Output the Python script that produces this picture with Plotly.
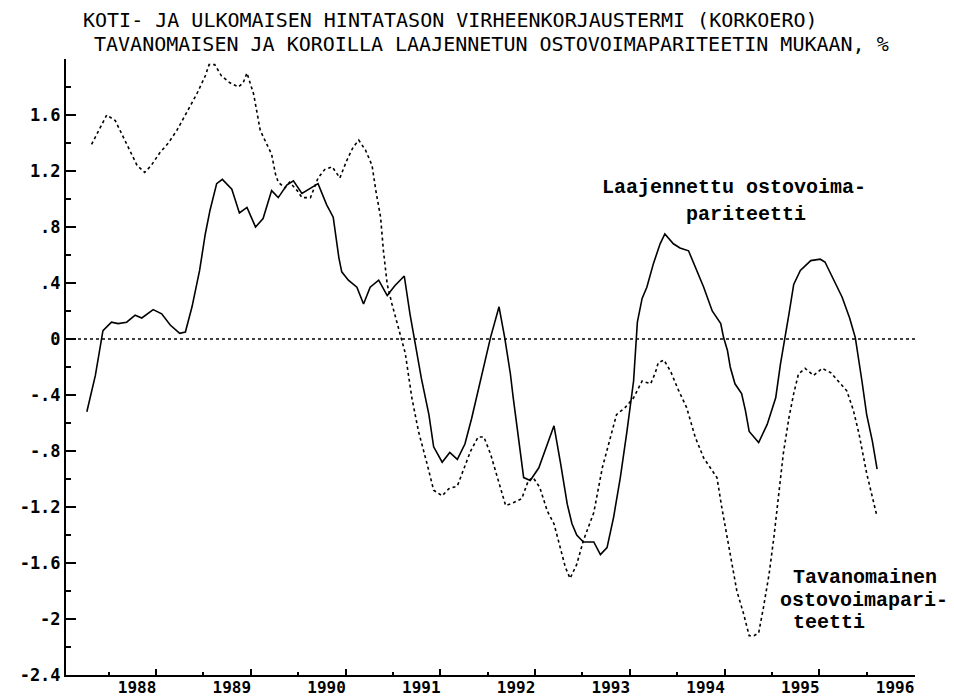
import plotly.graph_objects as go

# Laajennettu ostovoimapariteetti (solid)
laaj_x = [1987.27, 1987.36, 1987.44, 1987.53, 1987.60, 1987.69, 1987.78, 1987.85, 1987.97, 1988.06,
          1988.15, 1988.25, 1988.31, 1988.38, 1988.46, 1988.52, 1988.57, 1988.64, 1988.70, 1988.80,
          1988.88, 1988.96, 1989.05, 1989.13, 1989.22, 1989.29, 1989.38, 1989.45, 1989.54, 1989.63,
          1989.71, 1989.80, 1989.87, 1989.93, 1989.96, 1990.03, 1990.12, 1990.19, 1990.26, 1990.35,
          1990.44, 1990.52, 1990.62, 1990.68, 1990.73, 1990.80, 1990.88, 1990.93, 1991.02, 1991.10,
          1991.18, 1991.26, 1991.33, 1991.40, 1991.47, 1991.53, 1991.62, 1991.68, 1991.74, 1991.77,
          1991.88, 1991.95, 1992.04, 1992.13, 1992.20, 1992.27, 1992.34, 1992.39, 1992.44, 1992.51,
          1992.62, 1992.69, 1992.76, 1992.83, 1992.90, 1992.97, 1993.04, 1993.08, 1993.13, 1993.18,
          1993.25, 1993.32, 1993.37, 1993.46, 1993.53, 1993.62, 1993.69, 1993.78, 1993.87, 1993.96,
          1993.99, 1994.03, 1994.06, 1994.11, 1994.18, 1994.22, 1994.26, 1994.36, 1994.45, 1994.54,
          1994.59, 1994.64, 1994.68, 1994.73, 1994.80, 1994.91, 1995.01, 1995.06, 1995.15, 1995.24,
          1995.32, 1995.38, 1995.45, 1995.50, 1995.56, 1995.61]
laaj_y = [-0.52, -0.26, 0.06, 0.12, 0.11, 0.12, 0.17, 0.15, 0.21, 0.18,
          0.10, 0.04, 0.05, 0.23, 0.49, 0.75, 0.92, 1.11, 1.14, 1.07,
          0.90, 0.94, 0.80, 0.86, 1.06, 1.01, 1.10, 1.13, 1.04, 1.08,
          1.11, 0.96, 0.87, 0.58, 0.48, 0.42, 0.37, 0.25, 0.37, 0.42,
          0.31, 0.38, 0.45, 0.18, -0.01, -0.28, -0.54, -0.77, -0.88, -0.81,
          -0.86, -0.75, -0.57, -0.37, -0.18, 0.01, 0.23, 0.01, -0.25, -0.42,
          -0.99, -1.01, -0.92, -0.75, -0.62, -0.89, -1.18, -1.32, -1.40, -1.45,
          -1.45, -1.54, -1.49, -1.27, -0.99, -0.66, -0.30, 0.12, 0.29, 0.37,
          0.54, 0.68, 0.75, 0.68, 0.65, 0.63, 0.51, 0.37, 0.20, 0.11,
          0.01, -0.08, -0.20, -0.32, -0.39, -0.51, -0.66, -0.74, -0.61, -0.42,
          -0.18, 0.01, 0.18, 0.39, 0.49, 0.56, 0.57, 0.55, 0.42, 0.30,
          0.15, 0.01, -0.30, -0.54, -0.73, -0.93]

# Tavanomainen ostovoimapariteetti (dotted)
tav_x = [1987.32, 1987.48, 1987.57, 1987.67, 1987.80, 1987.88, 1987.95, 1988.04, 1988.13, 1988.22,
         1988.32, 1988.43, 1988.52, 1988.56, 1988.62, 1988.69, 1988.78, 1988.87, 1988.92, 1988.96,
         1989.03, 1989.10, 1989.17, 1989.22, 1989.26, 1989.29, 1989.36, 1989.41, 1989.49, 1989.54,
         1989.63, 1989.71, 1989.78, 1989.86, 1989.94, 1990.01, 1990.08, 1990.14, 1990.21, 1990.28,
         1990.32, 1990.37, 1990.40, 1990.44, 1990.49, 1990.54, 1990.59, 1990.63, 1990.70, 1990.77,
         1990.86, 1990.93, 1991.02, 1991.09, 1991.18, 1991.25, 1991.32, 1991.40, 1991.46, 1991.53,
         1991.60, 1991.69, 1991.77, 1991.86, 1991.93, 1991.98, 1992.05, 1992.13, 1992.20, 1992.27,
         1992.32, 1992.37, 1992.44, 1992.51, 1992.62, 1992.71, 1992.78, 1992.86, 1992.95, 1993.04,
         1993.13, 1993.22, 1993.27, 1993.30, 1993.36, 1993.43, 1993.51, 1993.60, 1993.69, 1993.78,
         1993.87, 1993.92, 1993.97, 1994.03, 1994.08, 1994.13, 1994.20, 1994.26, 1994.31, 1994.36,
         1994.41, 1994.47, 1994.52, 1994.57, 1994.62, 1994.68, 1994.73, 1994.78, 1994.85, 1994.94,
         1995.03, 1995.12, 1995.22, 1995.29, 1995.36, 1995.42, 1995.50, 1995.56, 1995.61]
tav_y = [1.39, 1.60, 1.56, 1.42, 1.24, 1.19, 1.24, 1.33, 1.40, 1.49,
         1.61, 1.75, 1.88, 1.96, 1.96, 1.88, 1.83, 1.80, 1.83, 1.90,
         1.75, 1.49, 1.39, 1.32, 1.18, 1.12, 1.08, 1.12, 1.06, 1.01,
         1.01, 1.15, 1.21, 1.23, 1.15, 1.27, 1.37, 1.42, 1.35, 1.24,
         1.06, 0.87, 0.63, 0.39, 0.25, 0.13, 0.01, -0.10, -0.42, -0.66,
         -0.89, -1.08, -1.12, -1.07, -1.05, -0.92, -0.80, -0.70, -0.70, -0.82,
         -0.99, -1.19, -1.17, -1.14, -1.01, -0.99, -1.06, -1.23, -1.32, -1.49,
         -1.63, -1.71, -1.61, -1.44, -1.24, -0.92, -0.75, -0.54, -0.49, -0.42,
         -0.30, -0.32, -0.24, -0.17, -0.15, -0.23, -0.36, -0.49, -0.70, -0.85,
         -0.94, -0.99, -1.20, -1.42, -1.61, -1.80, -1.96, -2.12, -2.12, -2.10,
         -1.92, -1.68, -1.42, -1.13, -0.82, -0.56, -0.39, -0.25, -0.21, -0.26,
         -0.21, -0.24, -0.32, -0.37, -0.51, -0.68, -0.96, -1.13, -1.27]

x_ticks = [1988, 1989, 1990, 1991, 1992, 1993, 1994, 1995, 1996]
x_ticktext = ["1988", "1989", "1990", "1991", "1992", "1993", "1994", "1995", "1996"]
y_ticks = [-2.4, -2.0, -1.6, -1.2, -0.8, -0.4, 0.0, 0.4, 0.8, 1.2, 1.6]
y_ticktext = ["-2.4", "-2", "-1.6", "-1.2", "-.8", "-.4", "0", ".4", ".8", "1.2", "1.6"]

title_lines = ["KOTI- JA ULKOMAISEN HINTATASON VIRHEENKORJAUSTERMI (KORKOERO)",
               "TAVANOMAISEN JA KOROILLA LAAJENNETUN OSTOVOIMAPARITEETIN MUKAAN, %"]
label_laaj = ["Laajennettu ostovoima-", "pariteetti"]
label_tav = ["Tavanomainen", "ostovoimapari-", "teetti"]

fig = go.Figure()
fig.add_trace(go.Scatter(x=laaj_x, y=laaj_y, mode="lines",
                         line=dict(color="black", width=1.6), showlegend=False))
fig.add_trace(go.Scatter(x=tav_x, y=tav_y, mode="lines",
                         line=dict(color="black", width=1.6, dash="dot"), showlegend=False))

fig.add_shape(type="line", xref="paper", yref="y", x0=0, x1=1.002, y0=0, y1=0,
              line=dict(color="black", width=1.3, dash="dot"))

tick_font = dict(family="DejaVu Sans Mono", size=17, color="black", weight="bold")
xtick_font = dict(family="DejaVu Sans Mono", size=16, color="black", weight="bold")

# page body has an 8px margin: figure is 946x688 placed at (8,8)
fig.update_layout(
    width=946, height=688,
    margin=dict(l=58, r=39, t=51, b=21),
    paper_bgcolor="white", plot_bgcolor="white",
    showlegend=False,
    xaxis=dict(range=[1987.05, 1996.01], showgrid=False, zeroline=False,
               showline=True, linecolor="black", linewidth=2,
               tickmode="array", tickvals=x_ticks, ticktext=x_ticktext,
               ticks="inside", ticklen=6, tickwidth=1.5, tickcolor="black",
               ticklabelshift=-19, ticklabelstandoff=-3,
               minor=dict(tickmode="linear", tick0=1987.5, dtick=1, ticks="inside",
                          ticklen=3, tickwidth=1.5, tickcolor="black", showgrid=False),
               tickfont=xtick_font, automargin=False),
    yaxis=dict(range=[-2.4, 2.0], showgrid=False, zeroline=False,
               showline=True, linecolor="black", linewidth=2,
               tickmode="array", tickvals=y_ticks, ticktext=y_ticktext,
               ticks="inside", ticklen=10, tickwidth=1.5, tickcolor="black",
               minor=dict(tickmode="linear", tick0=0.2, dtick=0.4, ticks="inside",
                          ticklen=5, tickwidth=1.5, tickcolor="black", showgrid=False),
               tickfont=tick_font, automargin=False),
)

title_font = dict(family="DejaVu Sans Mono", size=20, color="black")
label_font = dict(family="Liberation Mono", size=20, color="black", weight="bold")

# positions given in page pixels of the plot area (x 66..915, y 59..675)
def px2paper(px, py):
    return (px - 66) / 849.0, (675 - py) / 616.0

ann = [
    (title_lines[0], 82, 20, title_font),
    (title_lines[1], 93, 43.5, title_font),
    (label_laaj[0], 601, 188, label_font),
    (label_laaj[1], 685, 214, label_font),
    (label_tav[0], 792, 577, label_font),
    (label_tav[1], 779, 600, label_font),
    (label_tav[2], 792, 622, label_font),
]
for text, px, py, f in ann:
    xp, yp = px2paper(px, py)
    fig.add_annotation(text=text, xref="paper", yref="paper", x=xp, y=yp,
                       xanchor="left", yanchor="middle", showarrow=False, font=f,
                       borderpad=0)

fig.write_html("out.html")
